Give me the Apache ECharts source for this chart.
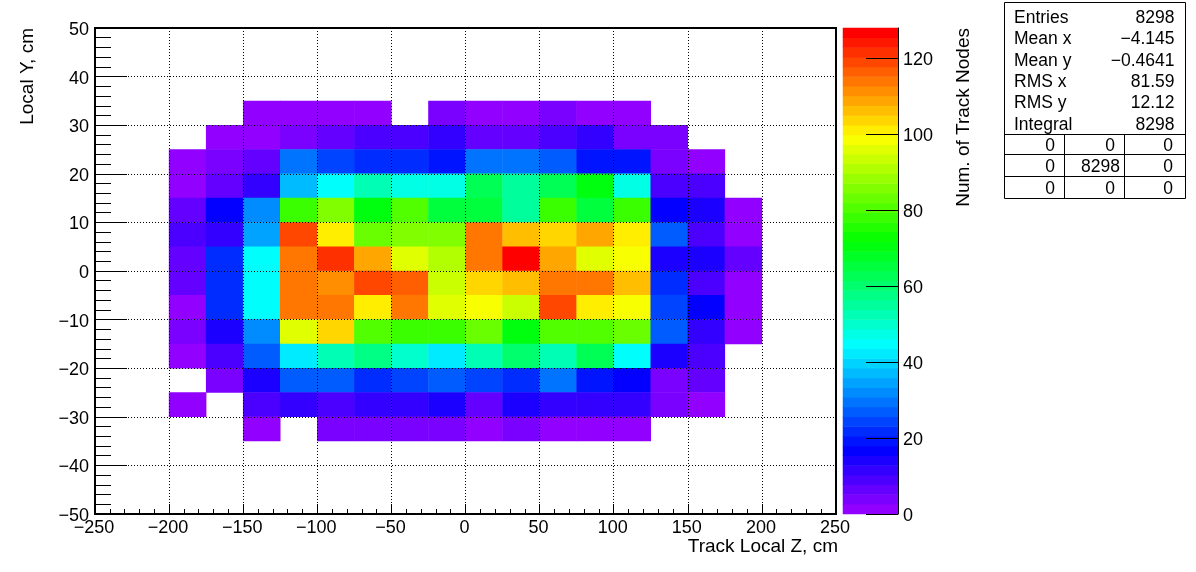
<!DOCTYPE html>
<html>
<head>
<meta charset="utf-8">
<style>html,body{margin:0;padding:0;background:#fff}#c{width:1196px;height:572px}</style>
<script src="https://cdn.jsdelivr.net/npm/echarts@6/dist/echarts.min.js"></script>
</head>
<body>
<div id="c"></div>
<script>
// Bin lower edges of the 20 x 20 histogram
const zBins = [-250,-225,-200,-175,-150,-125,-100,-75,-50,-25,0,25,50,75,100,125,150,175,200,225];
const yBins = [-50,-45,-40,-35,-30,-25,-20,-15,-10,-5,0,5,10,15,20,25,30,35,40,45];
const _ = null;
// Track-node counts per row; columns are z bins from -200 to 175
const rowY30  = [_,_,1,1,1,1,_,4,1,1,4,1,1,_,_,_];
const rowY25  = [_,1,1,4,6,9,9,12,6,6,9,12,4,4,_,_];
const rowY20  = [1,4,6,29,24,22,22,19,29,29,27,19,19,4,1,_];
const rowY15  = [1,6,12,37,45,52,47,47,63,55,63,70,47,9,9,_];
const rowY10  = [6,17,32,78,86,70,81,65,65,55,78,65,78,17,14,1];
const rowY5   = [9,12,35,119,101,83,86,86,114,106,104,109,101,27,9,1];
const rowY0   = [6,22,45,114,122,109,96,91,114,127,109,96,99,14,14,6];
const rowYm5  = [6,22,45,114,111,119,116,93,104,106,114,114,106,22,9,1];
const rowYm10 = [1,22,45,114,114,101,114,96,99,93,119,101,99,24,17,1];
const rowYm15 = [4,14,32,96,104,81,78,78,83,70,81,81,83,27,12,1];
const rowYm20 = [1,9,27,42,52,58,50,42,52,60,52,63,45,14,9,_];
const rowYm25 = [_,4,14,27,27,22,24,27,24,22,29,19,17,4,6,_];
const rowYm30 = [1,_,9,12,9,12,12,14,6,14,12,12,12,4,1,_];
const rowYm35 = [_,_,1,_,4,4,4,4,1,4,1,1,1,_,_,_];
const rowsByY = [[30,rowY30],[25,rowY25],[20,rowY20],[15,rowY15],[10,rowY10],[5,rowY5],[0,rowY0],
  [-5,rowYm5],[-10,rowYm10],[-15,rowYm15],[-20,rowYm20],[-25,rowYm25],[-30,rowYm30],[-35,rowYm35]];
const firstZBin = -200;

const zMax = 128, levels = 50;
const barTicks = [0,20,40,60,80,100,120];

const statNames = ['Entries','Mean x','Mean y','RMS x','RMS y','Integral'];
const statValues = ['8298','\u22124.145','\u22120.4641','81.59','12.12','8298'];
const cornerTable = [['0','0','0'],['0','8298','0'],['0','0','0']];

const TXT = '#000', FONT = '"Liberation Sans", Arial, sans-serif';
const minus = v => String(v).replace('-', '\u2212');

const cells = [];
rowsByY.forEach(([y, row]) => row.forEach((v, i) => {
  if (v !== null) cells.push([zBins.indexOf(firstZBin + i * 25), yBins.indexOf(y), v]);
}));

const step = zMax / levels;
const pieces = [], barCells = [], barCats = [];
for (let i = 0; i < levels; i++) {
  pieces.push({gte: i * step, lt: (i + 1) * step, color: `hsl(${280 - (i + 1) * 5.6},100%,50%)`});
  barCats.push(i);
  barCells.push([0, i, (i + 0.5) * step]);
}

const graphic = [];
const shape = {stroke: '#000', lineWidth: 1};
graphic.push({type:'rect', shape:{x:1004.5,y:2.5,width:181,height:196}, style:{fill:'#fff',...shape}});
[134.5,154.5,176.5].forEach(y => graphic.push({type:'line', shape:{x1:1004,y1:y,x2:1186,y2:y}, style:shape}));
[1064.5,1124.5].forEach(x => graphic.push({type:'line', shape:{x1:x,y1:134,x2:x,y2:198}, style:shape}));
const label = (t,x,y,align) => graphic.push({type:'text', x, y,
  style:{text:t, fill:TXT, font:'17.5px '+FONT, textAlign:align, textVerticalAlign:'middle'}});
statNames.forEach((t,i) => label(t, 1014, 18 + i * 21.4, 'left'));
statValues.forEach((t,i) => label(t, 1174.5, 18 + i * 21.4, 'right'));
const colRight = [1055, 1120, 1173], rowMid = [146, 167, 189];
cornerTable.forEach((r,j) => r.forEach((t,i) => label(t, t === '0' && i === 1 ? 1115 : colRight[i], rowMid[j], 'right')));

const tickLabel = {color:TXT, fontSize:18, fontFamily:FONT, hideOverlap:false};
const dotted = {show:true, lineStyle:{color:'#000', width:1, type:[1,2]}};
const hidden = {show:false};

const option = {
  animation:false,
  backgroundColor:'#fff',
  textStyle:{fontFamily:FONT},
  grid:[
    {left:95, top:28, width:741, height:486, show:true, borderColor:'#000', borderWidth:2, backgroundColor:'transparent'},
    {left:843, top:28, width:55, height:486}
  ],
  visualMap:{type:'piecewise', show:false, dimension:2, seriesIndex:[0,1], pieces, outOfRange:{color:'transparent'}},
  xAxis:[
    {type:'category', gridIndex:0, position:'top', data:zBins, ...hidden},
    {type:'value', gridIndex:0, position:'bottom', min:-250, max:250, interval:50, z:5,
     name:'Track Local Z, cm', nameLocation:'end', nameGap:2, nameMoveOverlap:false,
     nameTextStyle:{color:TXT, fontSize:19, fontFamily:FONT, align:'right', verticalAlign:'top', padding:[23,0,0,0]},
     axisLine:{show:true, onZero:false, lineStyle:{color:'#000', width:2}},
     axisTick:{show:true, inside:true, length:10, lineStyle:{color:'#000', width:1}},
     minorTick:{show:true, splitNumber:5, length:5, lineStyle:{color:'#000', width:1}},
     splitLine:dotted,
     axisLabel:{...tickLabel, margin:5, padding:[0,2,0,0], formatter:minus, showMinLabel:true, showMaxLabel:true}},
    {type:'category', gridIndex:1, position:'bottom', data:['z'], ...hidden}
  ],
  yAxis:[
    {type:'category', gridIndex:0, position:'right', data:yBins, ...hidden},
    {type:'value', gridIndex:0, position:'left', min:-50, max:50, interval:10, z:5,
     name:'Local Y, cm', nameLocation:'end', nameGap:0, nameRotate:90, nameMoveOverlap:false,
     nameTextStyle:{color:TXT, fontSize:19, fontFamily:FONT, align:'right', verticalAlign:'bottom', padding:[0,0,58,0]},
     axisLine:{show:true, onZero:false, lineStyle:{color:'#000', width:2}},
     axisTick:{show:true, inside:true, length:32, lineStyle:{color:'#000', width:1}},
     minorTick:{show:true, splitNumber:5, length:16, lineStyle:{color:'#000', width:1}},
     splitLine:dotted,
     axisLabel:{...tickLabel, margin:6, verticalAlign:'top', lineHeight:4, formatter:minus, showMinLabel:true, showMaxLabel:true}},
    {type:'category', gridIndex:1, position:'left', data:barCats, ...hidden},
    {type:'value', gridIndex:1, position:'right', min:0, max:zMax, z:5,
     name:'Num. of Track Nodes', nameLocation:'end', nameGap:0, nameRotate:90, nameMoveOverlap:false,
     nameTextStyle:{color:TXT, fontSize:19, fontFamily:FONT, align:'right', verticalAlign:'top', padding:[56,0,0,0]},
     axisLine:{show:true, onZero:false, lineStyle:{color:'#000', width:1}},
     axisTick:{show:true, inside:true, length:32, customValues:barTicks, lineStyle:{color:'#000', width:1}},
     minorTick:{show:false}, splitLine:{show:false},
     axisLabel:{...tickLabel, margin:5, verticalAlign:'top', lineHeight:4, customValues:barTicks}}
  ],
  series:[
    {type:'heatmap', xAxisIndex:0, yAxisIndex:0, data:cells, progressive:0, emphasis:{disabled:true}},
    {type:'heatmap', xAxisIndex:2, yAxisIndex:2, data:barCells, progressive:0, emphasis:{disabled:true}}
  ],
  graphic
};
echarts.init(document.getElementById('c'), null, {renderer:'canvas'}).setOption(option);
</script>
</body>
</html>
